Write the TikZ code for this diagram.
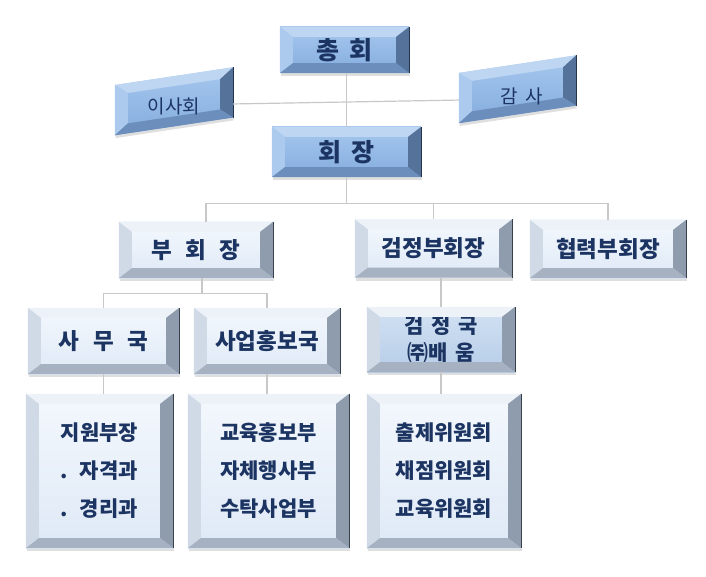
\documentclass[tikz,border=0pt]{standalone}
\usepackage{fontspec}
\setmainfont{Noto Sans CJK KR}
\usepackage{tikz}
\usetikzlibrary{calc,shadows}

\definecolor{navytext}{RGB}{28,52,98}
\definecolor{linegrey}{RGB}{200,200,200}
\definecolor{blfaceT}{RGB}{166,200,238}
\definecolor{blfaceB}{RGB}{132,172,222}
\definecolor{bltop}{RGB}{190,214,242}
\definecolor{blleft}{RGB}{172,202,238}
\definecolor{blright}{RGB}{84,114,154}
\definecolor{blbot}{RGB}{108,142,188}
\definecolor{bledge}{RGB}{36,52,76}
\definecolor{plfaceT}{RGB}{244,248,253}
\definecolor{plfaceB}{RGB}{222,233,246}
\definecolor{pltop}{RGB}{236,242,248}
\definecolor{plleft}{RGB}{208,218,230}
\definecolor{plright}{RGB}{142,156,174}
\definecolor{plbot}{RGB}{166,178,194}
\definecolor{pledge}{RGB}{56,64,76}
\definecolor{mdfaceT}{RGB}{210,226,243}
\definecolor{mdfaceB}{RGB}{182,204,232}

\newcommand{\bevx}{13pt}
\newcommand{\bevy}{10pt}
\newcommand{\gp}{\hspace{0.4em}}
\newcommand{\gw}{\hspace{0.6em}}
\newcommand{\gq}{\hspace{0.35em}}
% bevel of a box: node name, slant, colour set
\newcommand{\bevel}[3]{%
  \fill[#3top] (#1.north west) -- (#1.north east)
    -- ($(#1.north east)+(-\bevx,{-(#2)*\bevx-\bevy})$)
    -- ($(#1.north west)+(\bevx,{(#2)*\bevx-\bevy})$) -- cycle;
  \fill[#3left] (#1.north west) -- ($(#1.north west)+(\bevx,{(#2)*\bevx-\bevy})$)
    -- ($(#1.south west)+(\bevx,{(#2)*\bevx+\bevy})$) -- (#1.south west) -- cycle;
  \fill[#3right] (#1.north east) -- ($(#1.north east)+(-\bevx,{-(#2)*\bevx-\bevy})$)
    -- ($(#1.south east)+(-\bevx,{-(#2)*\bevx+\bevy})$) -- (#1.south east) -- cycle;
  \fill[#3bot] (#1.south west) -- ($(#1.south west)+(\bevx,{(#2)*\bevx+\bevy})$)
    -- ($(#1.south east)+(-\bevx,{-(#2)*\bevx+\bevy})$) -- (#1.south east) -- cycle;
  \draw[#3edge, line width=1pt] (#1.north east) -- (#1.south east);
}

\tikzset{
  boxbase/.style={rectangle, inner sep=0pt, text=navytext, align=center,
    drop shadow={shadow xshift=0.5pt, shadow yshift=-3pt, fill=black!50, opacity=0.25}},
  bluebox/.style={boxbase, top color=blfaceT, bottom color=blfaceB},
  palebox/.style={boxbase, top color=plfaceT, bottom color=plfaceB},
  midbox/.style={boxbase, top color=mdfaceT, bottom color=mdfaceB},
  conn/.style={draw=linegrey, line width=1.2pt},
  bigfont/.style={font=\bfseries\fontsize{25}{29}\selectfont},
  midfont/.style={font=\bfseries\fontsize{22.5}{26}\selectfont},
  twofont/.style={font=\bfseries\fontsize{21}{27}\selectfont},
  listfont/.style={font=\bfseries\fontsize{21}{38}\selectfont},
  sidefont/.style={font=\fontsize{19}{22}\selectfont, text=navytext},
}

\begin{document}
\begin{tikzpicture}[x=1pt,y=-1pt]
\useasboundingbox (0,0) rectangle (706,577);

%Shape: Bevel box, top
\node[bluebox, bigfont, minimum width=129pt, minimum height=46pt] (chonghoe) at (344.5,50) {총\gp 회};
\bevel{chonghoe}{0}{bl}
\node[bluebox, bigfont, minimum width=149pt, minimum height=50pt] (hoejang) at (346.5,152) {회\gp 장};
\bevel{hoejang}{0}{bl}

%Shape: Bevel box, slanted
\begin{scope}[shift={(174,101.25)}, yslant=0.15]
\node[bluebox, transform shape, minimum width=118pt, minimum height=50pt] (isahoe) at (0,0) {};
\end{scope}
\bevel{isahoe}{0.15}{bl}
\begin{scope}[shift={(517.5,89.25)}, yslant=0.15]
\node[bluebox, transform shape, minimum width=117pt, minimum height=50pt] (gamsa) at (0,0) {};
\end{scope}
\bevel{gamsa}{0.15}{bl}

% Text Node
\node[sidefont] (isahoe-t) at ([yshift=-5pt]isahoe.center) {이사회};
% Text Node
\node[sidefont] (gamsa-t) at ([xshift=4pt,yshift=-7pt]gamsa.center) {감\gp 사};

%Shape: Bevel box, second row
\node[palebox, midfont, minimum width=154pt, minimum height=56pt] (buhoejang) at (196,250) {부\gw 회\gw 장};
\bevel{buhoejang}{0}{pl}
\node[palebox, midfont, minimum width=157pt, minimum height=58pt] (geomjeongbu) at (433.5,248.5) {검정부회장};
\bevel{geomjeongbu}{0}{pl}
\node[palebox, midfont, minimum width=156pt, minimum height=58pt] (hyeopryeok) at (608,249) {협력부회장};
\bevel{hyeopryeok}{0}{pl}

%Shape: Bevel box, third row
\node[palebox, midfont, minimum width=151pt, minimum height=66pt] (samuguk) at (103.5,341) {사\gw 무\gw 국};
\bevel{samuguk}{0}{pl}
\node[palebox, midfont, minimum width=146pt, minimum height=66pt] (saeop) at (267,341) {사업홍보국};
\bevel{saeop}{0}{pl}
\node[midbox, twofont, minimum width=148pt, minimum height=65pt] (geomjeongguk) at (441,339.5) {검\gq 정\gq 국\\㈜배\gq 움};
\bevel{geomjeongguk}{0}{pl}

%Shape: Bevel box, bottom row
\node[palebox, listfont, align=left, minimum width=147pt, minimum height=154pt] (jiwon) at (99.5,471) {지원부장\\.\hspace{0.55em}자격과\\.\hspace{0.55em}경리과};
\bevel{jiwon}{0}{pl}
\node[palebox, listfont, minimum width=161pt, minimum height=154pt] (gyoyuk) at (268.5,471) {교육홍보부\\자체행사부\\수탁사업부};
\bevel{gyoyuk}{0}{pl}
\node[palebox, listfont, minimum width=154pt, minimum height=154pt] (chulje) at (444,471) {출제위원회\\채점위원회\\교육위원회};
\bevel{chulje}{0}{pl}

%Straight Lines
\draw[conn] ($(isahoe.south east)!0.27!(isahoe.north east)$) -- ($(gamsa.south west)!0.46!(gamsa.north west)$);
\draw[conn] (hoejang.north) -- (hoejang.north |- chonghoe.south);
\path (hoejang.south) ++(0,26) coordinate (bar1);
\draw[conn] (hoejang.south) -- (bar1);
\draw[conn] ([xshift=10pt]buhoejang.north) |- (bar1) -| (hyeopryeok.north);
\draw[conn] (geomjeongbu.north) -- (geomjeongbu.north |- bar1);
\path ([xshift=6pt]buhoejang.south) ++(0,15) coordinate (bar2);
\draw[conn] ([xshift=6pt]buhoejang.south) -- (bar2);
\draw[conn] (samuguk.north) |- (bar2) -| (saeop.north);
\draw[conn] (geomjeongguk.north) -- (geomjeongguk.north |- geomjeongbu.south);
\draw[conn] (samuguk.south) -- (samuguk.south |- jiwon.north);
\draw[conn] (saeop.south) -- (saeop.south |- gyoyuk.north);
\draw[conn] (geomjeongguk.south) -- (geomjeongguk.south |- chulje.north);

\end{tikzpicture}
\end{document}
